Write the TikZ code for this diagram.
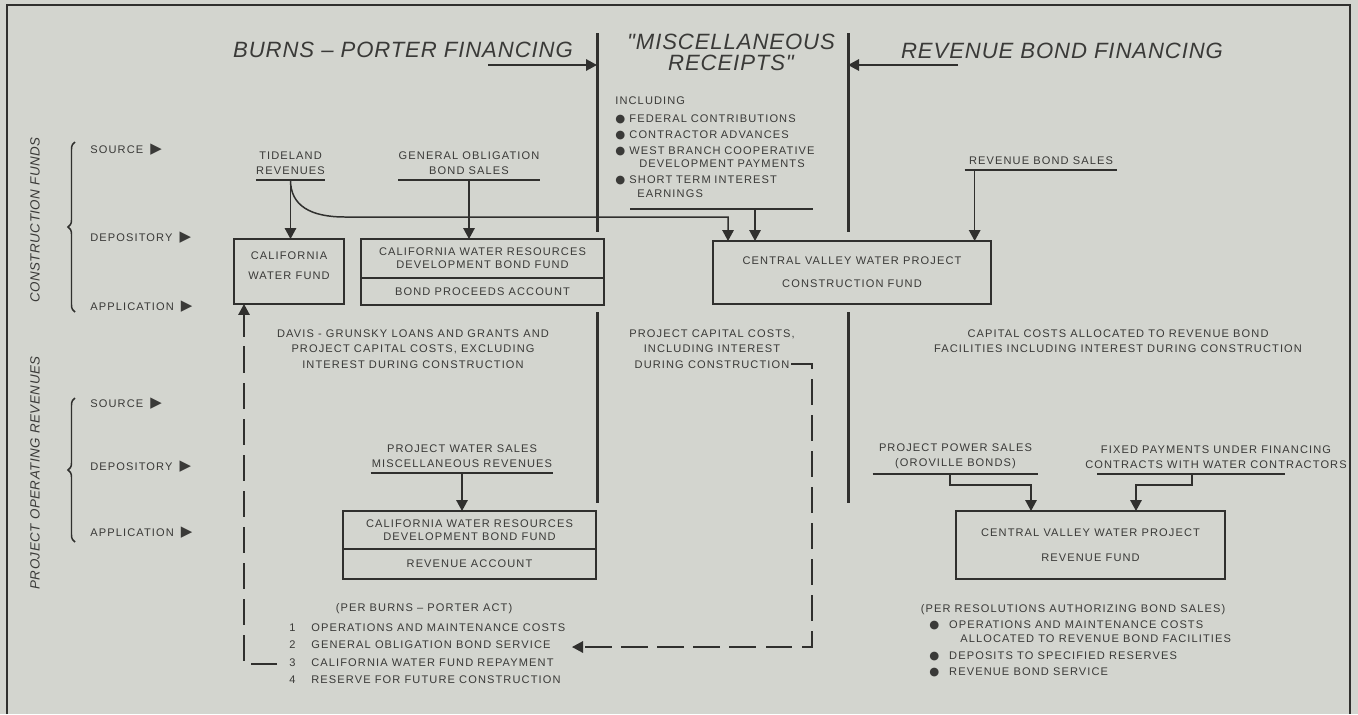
\documentclass[tikz,border=0pt]{standalone}
\usepackage{fontspec}
\setmainfont{Liberation Sans}[LetterSpace=10]
\newfontfamily\hdfont{Liberation Sans}[LetterSpace=4]
\newfontfamily\symfont{DejaVu Sans}
\usetikzlibrary{arrows.meta,positioning,decorations.pathreplacing}
\definecolor{paper}{RGB}{211,213,207}
\definecolor{ink}{RGB}{48,48,46}
\definecolor{lettering}{RGB}{58,58,56}
\newcommand\lblsize{\fontsize{6.3}{8.5}\selectfont}
\newcommand\hdsize{\hdfont\itshape\fontsize{12.6}{12}\selectfont}
\newcommand\tri{\hspace{4pt}{\symfont\fontsize{8.5}{8}\selectfont ▶}}
\newcommand\bul[1][8pt]{\makebox[#1][l]{\symfont\fontsize{6.5}{8}\selectfont ●}}
\newcommand\itemno[1]{\makebox[12.5pt][l]{#1}}
\tikzset{
  fund/.style   ={rectangle, draw=ink, line width=0.95pt, align=center,
                  inner sep=0pt, outer sep=0pt},
  src/.style    ={align=center, inner xsep=0pt, inner ysep=3pt, anchor=south},
  app/.style    ={align=center, inner sep=0pt, font=\fontsize{6.3}{8.8}\selectfont},
  hd/.style     ={align=center, inner sep=0pt, font=\hdsize},
  side/.style   ={rotate=90, inner sep=0pt, font=\hdfont\itshape\fontsize{7.6}{9}\selectfont},
  row/.style    ={anchor=west, inner sep=0pt},
  uline/.style  ={draw=ink, line width=0.8pt},
  flow/.style   ={-{Triangle[length=2.2mm, width=2.3mm]}, line width=0.85pt, draw=ink},
  dflow/.style  ={flow, dash pattern=on 15pt off 5.5pt},
  divider/.style={draw=ink, line width=1.7pt},
  curly/.style  ={draw=ink, line width=0.85pt, decorate,
                  decoration={brace, amplitude=0.14cm}},
}

\begin{document}
\begin{tikzpicture}[x=0.02cm, y=-0.02cm, font=\lblsize, text=lettering]
  \fill[paper] (0,0) rectangle (1358,714);
  \useasboundingbox (0,0) rectangle (1358,714);
  \draw[ink, line width=1.4pt] (7,714) -- (7,5) -- (1350,5) -- (1350,714);

  % headings and dividers
  \node[hd] (bpf)  at (403,50)  {BURNS – PORTER FINANCING};
  \node[hd] (misc) at (731,52)  {"MISCELLANEOUS\\RECEIPTS"};
  \node[hd] (rbf)  at (1062,51) {REVENUE BOND FINANCING};
  \coordinate (dl1) at (597,33);  \coordinate (dl2) at (597,232);
  \coordinate (dl3) at (597,312); \coordinate (dl4) at (597,503);
  \coordinate (dr1) at (848,33);  \coordinate (dr2) at (848,232);
  \coordinate (dr3) at (848,312); \coordinate (dr4) at (848,503);
  \draw[divider] (dl1) -- (dl2) (dl3) -- (dl4) (dr1) -- (dr2) (dr3) -- (dr4);
  \coordinate (bpt) at (488,65);
  \coordinate (rbt) at (958,65);
  \draw[flow] (bpt) -- (bpt -| dl1);
  \draw[flow] (rbt) -- (rbt -| dr1);

  % row labels
  \node[side] (cfund)  at (35,220) {CONSTRUCTION FUNDS};
  \node[side] (opfund) at (35,473) {PROJECT OPERATING REVENUES};
  \draw[curly] (75,312) -- (75,142);
  \draw[curly] (75,542) -- (75,398);
  \node[row] (csrc) at (90,150) {SOURCE\tri};
  \node[row] (cdep) at (90,238) {DEPOSITORY\tri};
  \node[row] (capp) at (90,307) {APPLICATION\tri};
  \node[row] (osrc) at (90,404) {SOURCE\tri};
  \node[row] (odep) at (90,467) {DEPOSITORY\tri};
  \node[row] (oapp) at (90,533) {APPLICATION\tri};

  % construction funds
  \node[src, minimum width=1.34cm] (tide) at (290.5,180) {TIDELAND\\REVENUES};
  \node[src, minimum width=2.8cm]  (gobs) at (469,180)   {GENERAL OBLIGATION\\BOND SALES};
  \node[src, minimum width=3.04cm] (rbs)  at (1041,170)  {REVENUE BOND SALES};
  \draw[uline] (tide.south west) -- (tide.south east)
               (gobs.south west) -- (gobs.south east)
               (rbs.south west) -- (rbs.south east);
  \node[anchor=north west, text width=3.94cm, align=left, inner sep=0pt,
        font=\fontsize{6.3}{7.6}\selectfont] (mrl) at (615,96)
    {INCLUDING\\[2.6pt]
     \bul FEDERAL CONTRIBUTIONS\\[1.6pt]
     \bul CONTRACTOR ADVANCES\\[1.6pt]
     \bul WEST BRANCH COOPERATIVE\\
     \hspace*{13.6pt}DEVELOPMENT PAYMENTS\\[1.6pt]
     \bul SHORT TERM INTEREST\\
     \hspace*{12.5pt}EARNINGS};
  \coordinate (mrlu) at (630,209);
  \draw[uline] (mrlu) -- (mrlu -| mrl.east);

  \node[fund, minimum width=2.2cm, minimum height=1.3cm, text depth=7pt] (cwf) at (289,271.5)
    {CALIFORNIA\\[2.8pt]WATER FUND};
  \node[fund, minimum width=4.86cm, minimum height=0.78cm] (cwrd) at (482.5,258.5)
    {CALIFORNIA WATER RESOURCES\\[-1.1pt]DEVELOPMENT BOND FUND};
  \node[fund, minimum width=4.86cm, minimum height=0.54cm, below=0pt of cwrd] (bpac)
    {BOND PROCEEDS ACCOUNT};
  \node[fund, minimum width=5.56cm, minimum height=1.26cm] (cvcf) at (852,272.5)
    {CENTRAL VALLEY WATER PROJECT\\[4.5pt]CONSTRUCTION FUND};

  \coordinate (tbend) at (345,217);
  \draw[flow] (tide.south) -- (tide.south |- cwf.north);
  \draw[flow] (gobs.south) -- (gobs.south |- cwrd.north);
  \draw[flow] (tide.south) .. controls +(0,26) and +(-34,0) .. (tbend)
              -| ([xshift=0.3cm]cvcf.north west);
  \draw[flow] ([xshift=0.84cm]cvcf.north west |- mrlu) -- ([xshift=0.84cm]cvcf.north west);
  \draw[flow] ([xshift=0.2cm]rbs.south west) -- ([xshift=0.2cm]rbs.south west |- cvcf.north);

  \node[app] (dgl) at (413,349) {DAVIS - GRUNSKY LOANS AND GRANTS AND\\PROJECT CAPITAL COSTS, EXCLUDING\\INTEREST DURING CONSTRUCTION};
  \node[app] (pcc) at (712,349) {PROJECT CAPITAL COSTS,\\INCLUDING INTEREST\\DURING CONSTRUCTION};
  \node[app] (ccr) at (1118,341) {CAPITAL COSTS ALLOCATED TO REVENUE BOND\\FACILITIES INCLUDING INTEREST DURING CONSTRUCTION};

  % operating revenues
  \node[src, minimum width=3.64cm] (pws) at (462,473) {PROJECT WATER SALES\\MISCELLANEOUS REVENUES};
  \draw[uline] (pws.south west) -- (pws.south east);
  \node[fund, minimum width=5.06cm, minimum height=0.76cm] (rvbf) at (469.5,530)
    {CALIFORNIA WATER RESOURCES\\[-1.1pt]DEVELOPMENT BOND FUND};
  \node[fund, minimum width=5.06cm, minimum height=0.6cm, below=0pt of rvbf] (rvac)
    {REVENUE ACCOUNT};
  \draw[flow] (pws.south) -- (pws.south |- rvbf.north);

  \node (bpact) at (424,609) {(PER BURNS – PORTER ACT)};
  \node[anchor=north west, align=left, inner sep=0pt, font=\fontsize{6.3}{10}\selectfont] (bpl) at (289,623)
    {\itemno{1}OPERATIONS AND MAINTENANCE COSTS\\
     \itemno{2}GENERAL OBLIGATION BOND SERVICE\\
     \itemno{3}CALIFORNIA WATER FUND REPAYMENT\\
     \itemno{4}RESERVE FOR FUTURE CONSTRUCTION};
  \coordinate (gos)  at (572,647);
  \coordinate (pcct) at (791,364);
  \coordinate (cwr)  at (277,664);
  \draw[dflow] (pcct) -- ++(21,0) |- (gos);
  \draw[dflow] (cwr) -| ([xshift=0.2cm]cwf.south west);

  \node[src, minimum width=3.3cm] (pps) at (955.5,474) {PROJECT POWER SALES\\(OROVILLE BONDS)};
  \node[src] (fpf) at (1216,474) {FIXED PAYMENTS UNDER FINANCING\\CONTRACTS WITH WATER CONTRACTORS};
  \draw[uline] (pps.south west) -- (pps.south east)
               ([xshift=-2.38cm]fpf.south) -- ([xshift=1.38cm]fpf.south);
  \node[fund, minimum width=5.38cm, minimum height=1.36cm] (rvf) at (1090.5,545)
    {CENTRAL VALLEY WATER PROJECT\\[6pt]REVENUE FUND};
  \draw[flow] ([xshift=-0.11cm]pps.south) -- ++(0,11) -| ([xshift=1.5cm]rvf.north west);
  \draw[flow] ([xshift=-0.48cm]fpf.south) -- ++(0,11) -| ([xshift=3.6cm]rvf.north west);

  \node (perres) at (1073,610) {(PER RESOLUTIONS AUTHORIZING BOND SALES)};
  \node[anchor=north west, align=left, inner sep=0pt, font=\fontsize{6.3}{8}\selectfont] (rvl) at (929,620)
    {\bul[11.3pt]OPERATIONS AND MAINTENANCE COSTS\\
     \hspace*{17.6pt}ALLOCATED TO REVENUE BOND FACILITIES\\[1.6pt]
     \bul[11.3pt]DEPOSITS TO SPECIFIED RESERVES\\[1.6pt]
     \bul[11.3pt]REVENUE BOND SERVICE};
\end{tikzpicture}
\end{document}
